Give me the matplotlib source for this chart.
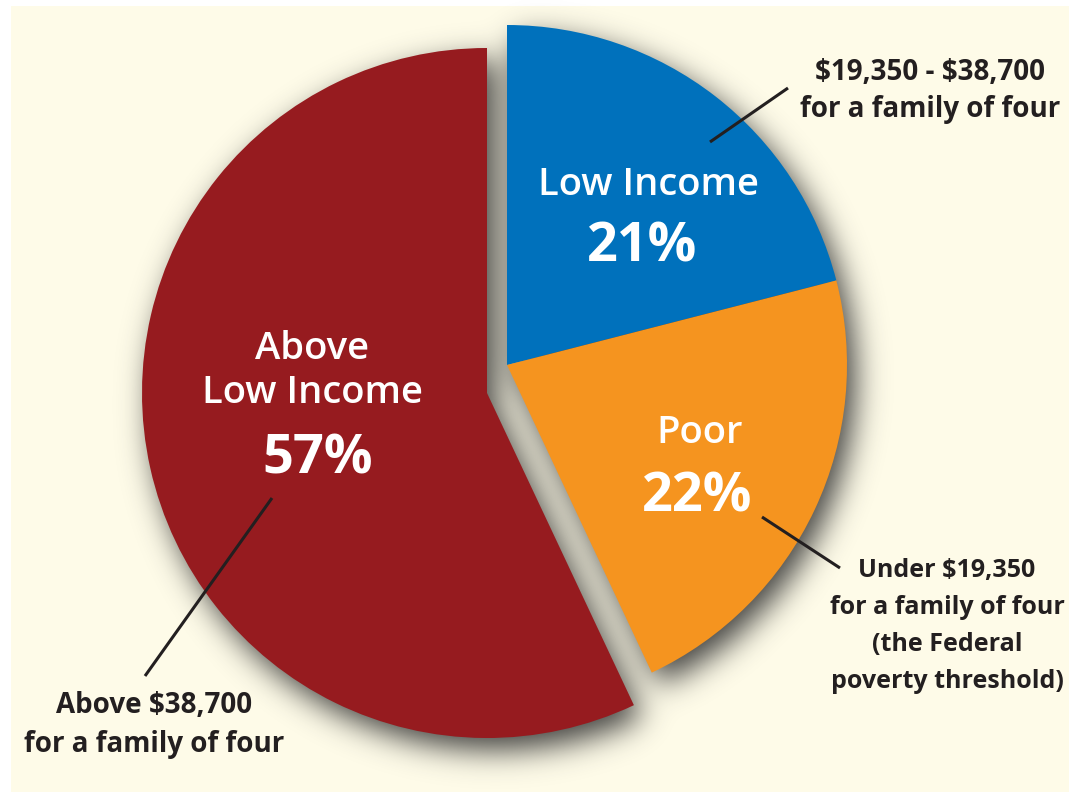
import numpy as np
import matplotlib.pyplot as plt
from matplotlib.patches import Rectangle

# shares of families, clockwise from the top
labels = ['Low Income', 'Poor', 'Above\nLow Income']
shares = [21, 22, 57]
colors = ['#0071BC', '#F5941F', '#961B1F']
notes = [r'\$19,350 - \$38,700' + '\nfor a family of four',
         r'Under \$19,350' + '\nfor a family of four\n(the Federal\npoverty threshold)',
         r'Above \$38,700' + '\nfor a family of four']

W, H = 1069, 792
bg = '#FEFBE8'
ink = '#231F20'

fig = plt.figure(figsize=(W / 100, H / 100), dpi=100, facecolor='white')
ax = fig.add_axes([0, 0, 1, 1])

center = (507, 427)
radius = 340
wedges, _ = ax.pie(shares, colors=colors, startangle=90, counterclock=False,
                   center=center, radius=radius, wedgeprops=dict(linewidth=0))
# the big slice is pulled out to the lower left
wedges[2].set_center((487, 399))
wedges[2].set_radius(345)
for w in wedges:
    w.set_zorder(2)

ax.set_xlim(0, W)
ax.set_ylim(0, H)
ax.set_aspect('equal')
ax.axis('off')

ax.add_patch(Rectangle((11, 0), W - 11, H - 6, facecolor=bg, edgecolor='none', zorder=0))

# soft drop shadow behind the pie
step = 2
xs = np.arange(0, W, step) + step / 2
ys = np.arange(0, H, step) + step / 2
X, Y = np.meshgrid(xs, ys)
mask = np.zeros_like(X)
off = (9, -12)
for w in wedges:
    cx, cy = w.center
    dx = X - cx - off[0]
    dy = Y - cy - off[1]
    ang = np.degrees(np.arctan2(dy, dx)) % 360
    inside = (np.hypot(dx, dy) <= w.r) & (((ang - w.theta1) % 360) <= (w.theta2 - w.theta1) % 360 + 1e-9)
    mask[inside] = 1.0
sigma = 15 / step
k = np.arange(-int(4 * sigma), int(4 * sigma) + 1)
kern = np.exp(-0.5 * (k / sigma) ** 2)
kern /= kern.sum()
blur = np.apply_along_axis(lambda r: np.convolve(r, kern, mode='same'), 1, mask)
blur = np.apply_along_axis(lambda c: np.convolve(c, kern, mode='same'), 0, blur)
rgba = np.zeros(blur.shape + (4,))
rgba[..., :3] = 0.18
rgba[..., 3] = np.clip(blur, 0, 1) * 0.9
ax.imshow(rgba, extent=(0, W, 0, H), origin='lower', zorder=1, interpolation='bilinear')
ax.set_xlim(0, W)
ax.set_ylim(0, H)

font = ['Open Sans', 'DejaVu Sans']

# labels inside the slices
inner = [(648, 185, 642, 248), (700, 433, 697, 497), (312, 371, 318, 460)]
for lab, s, (lx, ly, px, py) in zip(labels, shares, inner):
    ax.text(lx, H - ly, lab, color='white', fontsize=27.5, fontweight='semibold', ha='center',
            va='center', family=font, linespacing=1.2, zorder=3)
    ax.text(px, H - py, f'{s}%', color='white', fontsize=39, fontweight='bold', ha='center',
            va='center', family=font, zorder=3)

# notes outside with leader lines
note_pos = [(930, 91, 20, 1.32), (947, 626, 18, 1.63), (154, 725, 20, 1.42)]
for txt, (nx, ny, fs, ls) in zip(notes, note_pos):
    ax.text(nx, H - ny, txt, color=ink, fontsize=fs, fontweight='bold', ha='center',
            va='center', family=font, linespacing=ls, zorder=3)

leaders = [((710, 142), (788, 88)), ((762, 517), (840, 568)), ((272, 498), (145, 676))]
for (x0, y0), (x1, y1) in leaders:
    ax.plot([x0, x1], [H - y0, H - y1], color=ink, lw=2.2, solid_capstyle='butt', zorder=4)

fig.savefig('out.png', dpi=100, facecolor='white')
